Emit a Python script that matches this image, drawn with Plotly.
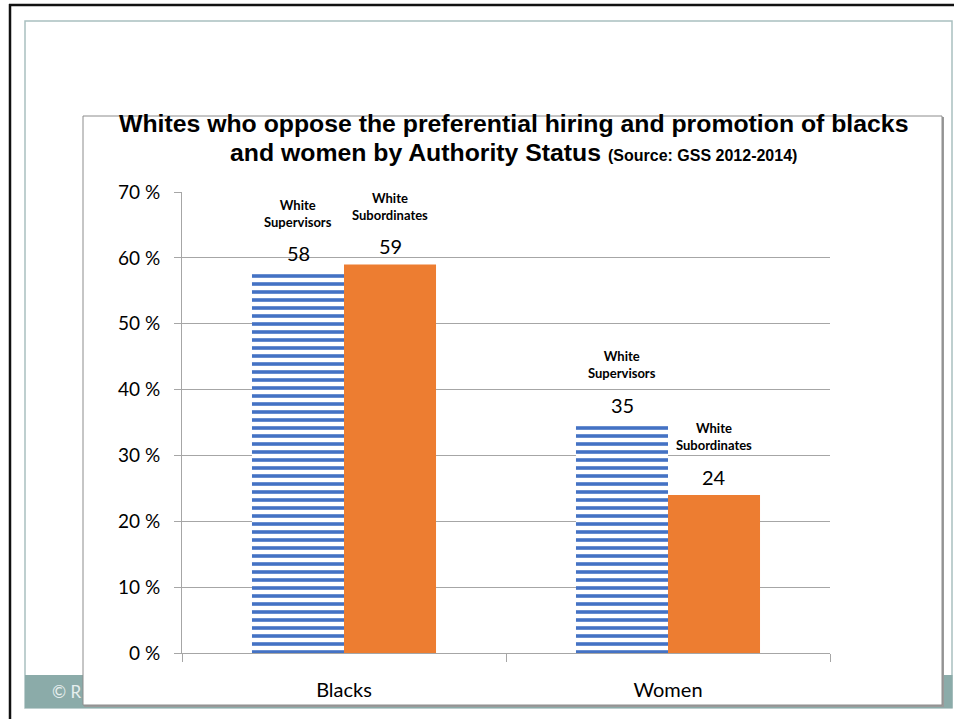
import plotly.graph_objects as go

# ---- data ----
categories = ["Blacks", "Women"]
supervisors = [58, 35]
subordinates = [59, 24]
series_labels = ["White<br>Supervisors", "White<br>Subordinates"]
tick_vals = [0, 10, 20, 30, 40, 50, 60, 70]
tick_text = ["0 %", "10 %", "20 %", "30 %", "40 %", "50 %", "60 %", "70 %"]
title_line1 = "Whites who oppose the preferential hiring and promotion of blacks"
title_line2 = "and women by Authority Status"
title_source = "(Source: GSS 2012-2014)"

W, H = 954, 719
ML, MR, MT, MB = 182, 124, 192, 66
PW, PH = W - ML - MR, H - MT - MB

def px(x):
    return (x - ML) / PW

def py(y):
    return (H - MB - y) / PH

BLUE = "#4472C4"
ORANGE = "#ED7D31"
GRID = "#A6A6A6"

fig = go.Figure()
fig.add_trace(go.Bar(
    x=categories, y=supervisors, name="White Supervisors",
    marker=dict(color="white", line=dict(width=0),
                pattern=dict(shape="-", fgcolor=BLUE, bgcolor="white",
                             size=8, solidity=0.45, fillmode="replace")),
))
fig.add_trace(go.Bar(
    x=categories, y=subordinates, name="White Subordinates",
    marker=dict(color=ORANGE, line=dict(width=0)),
))

shapes = []
# outer black frame
shapes.append(dict(type="line", xref="paper", yref="paper", x0=px(9), x1=px(954),
                   y0=py(5), y1=py(5), line=dict(color="#111111", width=2.5), layer="below"))
shapes.append(dict(type="line", xref="paper", yref="paper", x0=px(10), x1=px(10),
                   y0=py(4), y1=py(719), line=dict(color="#111111", width=2.5), layer="below"))
# inner slide frame
shapes.append(dict(type="rect", xref="paper", yref="paper", x0=px(25), x1=px(952),
                   y0=py(21), y1=py(708), line=dict(color="#A9C0C0", width=1.5),
                   fillcolor="white", layer="below"))
# teal footer strip
shapes.append(dict(type="rect", xref="paper", yref="paper", x0=px(25), x1=px(952.5),
                   y0=py(675), y1=py(708), line=dict(width=0),
                   fillcolor="#8BABA9", layer="below"))
# chart box shadow + box
shapes.append(dict(type="rect", xref="paper", yref="paper", x0=px(84), x1=px(944),
                   y0=py(117), y1=py(707), line=dict(width=0),
                   fillcolor="#9A9A9A", layer="below"))
shapes.append(dict(type="rect", xref="paper", yref="paper", x0=px(83), x1=px(942),
                   y0=py(116), y1=py(705), line=dict(color="#8C8C8C", width=1),
                   fillcolor="white", layer="below"))

annotations = []
# title (two lines)
TFONT = "Liberation Sans, Arial, sans-serif"
annotations.append(dict(
    xref="paper", yref="paper", x=px(513), y=py(123), xanchor="center", yanchor="middle",
    showarrow=False, text="<b>" + title_line1 + "</b>",
    font=dict(family=TFONT, size=24.8, color="black"),
))
annotations.append(dict(
    xref="paper", yref="paper", x=px(513), y=py(153), xanchor="center", yanchor="middle",
    showarrow=False,
    text="<b>" + title_line2 + " <span style='font-size:16px'>" + title_source + "</span></b>",
    font=dict(family=TFONT, size=24.8, color="black"),
))
# footer text
annotations.append(dict(
    xref="paper", yref="paper", x=px(50), y=py(691), xanchor="left", yanchor="middle",
    showarrow=False, text="© R", font=dict(family="Lato, sans-serif", size=17, color="#E6EEEE"),
))
# bar labels
for vals, lab, shift in [(supervisors, series_labels[0], -46), (subordinates, series_labels[1], 46)]:
    for cat, v in zip(categories, vals):
        annotations.append(dict(
            x=cat, y=v, xref="x", yref="y", xshift=shift, yshift=18,
            xanchor="center", yanchor="middle", showarrow=False,
            text=str(v), font=dict(family="Lato, sans-serif", size=20, color="black"),
        ))
        annotations.append(dict(
            x=cat, y=v, xref="x", yref="y", xshift=shift, yshift=58,
            xanchor="center", yanchor="middle", showarrow=False,
            text="<b>" + lab + "</b>", font=dict(family="Lato, sans-serif", size=13, color="black"),
        ))

fig.update_layout(
    width=W, height=H,
    margin=dict(l=ML, r=MR, t=MT, b=MB, pad=0),
    paper_bgcolor="white", plot_bgcolor="rgba(0,0,0,0)",
    showlegend=False,
    barmode="group", bargap=0.432, bargroupgap=0,
    shapes=shapes, annotations=annotations,
    font=dict(family="Lato, sans-serif", color="black"),
)
fig.update_xaxes(
    showline=True, linecolor=GRID, linewidth=1,
    ticks="outside", tickson="boundaries", ticklen=8, tickcolor=GRID, tickwidth=1,
    tickfont=dict(family="Lato, sans-serif", size=20, color="black"),
    ticklabelstandoff=19, showgrid=False,
)
fig.update_yaxes(
    range=[0, 70], tickvals=tick_vals, ticktext=tick_text,
    showline=True, linecolor=GRID, linewidth=1,
    ticks="outside", ticklen=7, tickcolor=GRID, tickwidth=1,
    showgrid=True, gridcolor=GRID, gridwidth=1, zeroline=False,
    tickfont=dict(family="Lato, sans-serif", size=19, color="black"),
    ticklabelstandoff=10,
)

fig.write_html("out.html", config={"displayModeBar": False},
               post_script="document.body.style.margin='0';document.body.style.overflow='hidden';")
